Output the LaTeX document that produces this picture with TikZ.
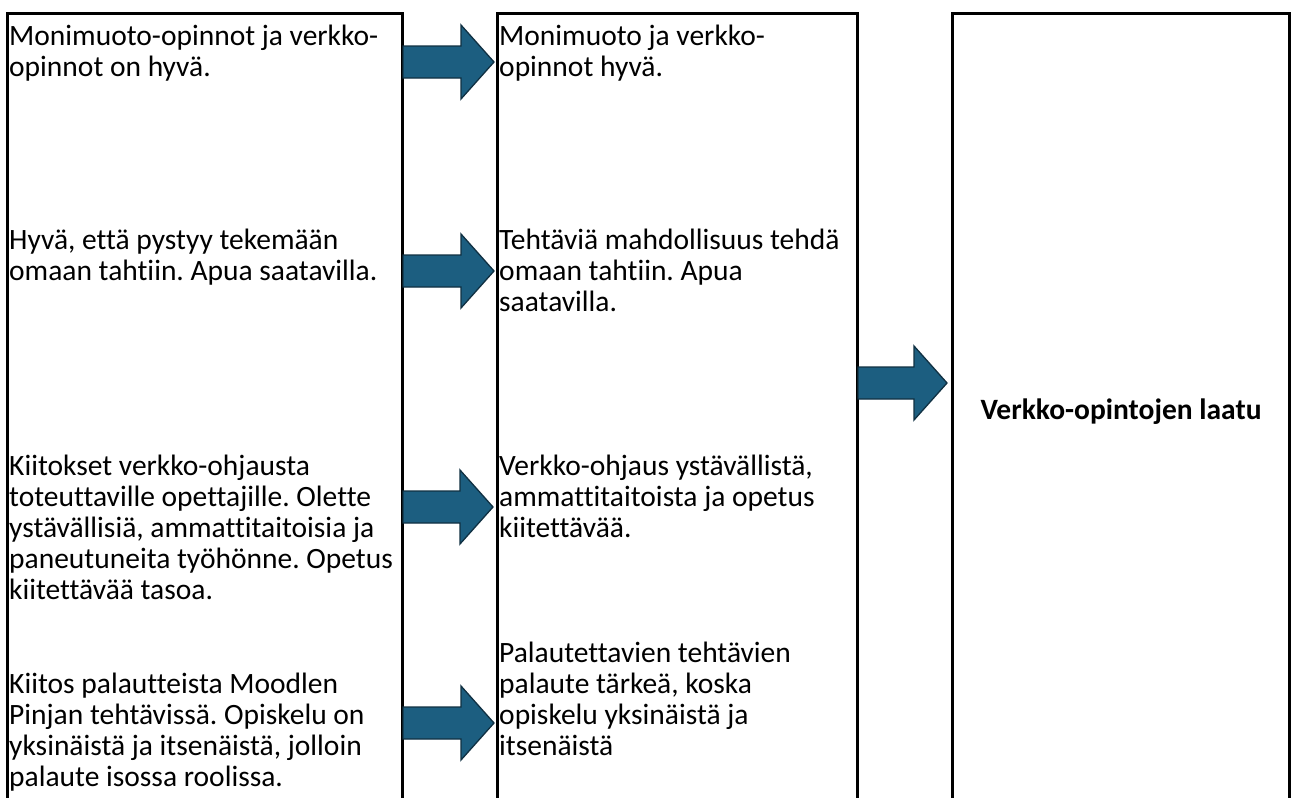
\documentclass[tikz,border=0pt]{standalone}
\usepackage{fontspec}
\setmainfont{Carlito}[Ligatures=NoCommon]
\frenchspacing
\definecolor{arrfill}{RGB}{28,94,128}
\definecolor{arrline}{RGB}{16,48,66}
\tikzset{
  box/.style={draw=black, line width=3pt},
  arr/.style={fill=arrfill, draw=arrline, line width=1.3pt, line join=miter},
  txt/.style={anchor=base west, inner sep=0pt, font=\fontsize{29.5}{31}\selectfont},
  bold/.style={anchor=base, inner sep=0pt, font=\fontsize{29.5}{31}\selectfont\bfseries}
}
\newcommand\blockarrow[3]{% shaft start x, tip x, centre y
  \filldraw[arr] (#1,#3-16) -- (#2-33,#3-16) -- (#2-33,#3-37) -- (#2,#3)
    -- (#2-33,#3+37) -- (#2-33,#3+16) -- (#1,#3+16) -- cycle;}
\newcommand\blk[1]{\parbox[t]{420pt}{\raggedright\frenchspacing #1}}
\begin{document}
\begin{tikzpicture}[x=1pt,y=-1pt]
\useasboundingbox (0,0) rectangle (1291,798);
\clip (0,0) rectangle (1291,798);
\fill[white] (0,0) rectangle (1291,798);
% boxes
\draw[box] (7,13) rectangle (402,840);
\draw[box] (497,13) rectangle (857,840);
\draw[box] (952,13) rectangle (1289,840);
% arrows
\blockarrow{403}{494}{62}
\blockarrow{403}{494}{271}
\blockarrow{403}{493}{507}
\blockarrow{403}{494}{723}
\blockarrow{858}{947}{383}
% left texts
\node[txt] (l1) at (9,45) {\blk{Monimuoto-opinnot ja verkko-\\opinnot on hyvä.}};
\node[txt] (l2) at (9,249) {\blk{Hyvä, että pystyy tekemään\\omaan tahtiin. Apua saatavilla.}};
\node[txt] (l3) at (9,475) {\blk{Kiitokset verkko-ohjausta\\toteuttaville opettajille. Olette\\ystävällisiä, ammattitaitoisia ja\\paneutuneita työhönne. Opetus\\kiitettävää tasoa.}};
\node[txt] (l4) at (9,693) {\blk{Kiitos palautteista Moodlen\\Pinjan tehtävissä. Opiskelu on\\yksinäistä ja itsenäistä, jolloin\\palaute isossa roolissa.}};
% middle texts
\node[txt] (m1) at (499,45) {\blk{Monimuoto ja verkko-\\opinnot hyvä.}};
\node[txt] (m2) at (499,249) {\blk{Tehtäviä mahdollisuus tehdä\\omaan tahtiin. Apua\\saatavilla.}};
\node[txt] (m3) at (499,475) {\blk{Verkko-ohjaus ystävällistä,\\ammattitaitoista ja opetus\\kiitettävää.}};
\node[txt] (m4) at (499,662) {\blk{Palautettavien tehtävien\\palaute tärkeä, koska\\opiskelu yksinäistä ja\\itsenäistä}};
% right text
\node[bold] (r) at (1121,419) {Verkko-opintojen laatu};
\end{tikzpicture}
\end{document}
